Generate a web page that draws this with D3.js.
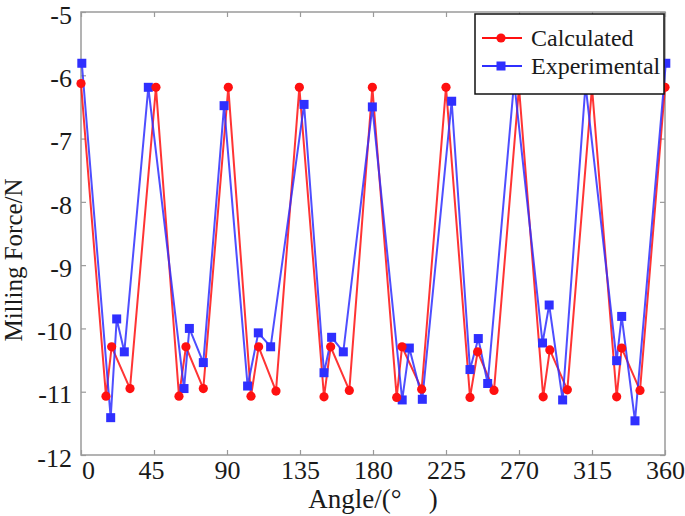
<!DOCTYPE html>
<html><head><meta charset="utf-8">
<script src="https://cdn.jsdelivr.net/npm/d3@7"></script>
<style>body{margin:0;background:#fff}svg{display:block}text{font-family:"Liberation Serif","Times New Roman",serif;fill:#1a1a1a}</style>
</head><body><svg id="c" width="685" height="516"></svg>
<script>
const calcAngles = [0, 15.4, 18.9, 30.2, 46.2, 60.4, 64.7, 75.4, 90.8, 104.8, 109.5, 120.2, 134.6, 149.8, 153.9, 165.4, 179.6, 194.6, 197.9, 210, 225, 239.8, 244.5, 254.6, 270, 284.9, 289, 299.8, 315, 330.2, 333.3, 344.6, 360];
const calcValues = [-6.13, -11.07, -10.29, -10.95, -6.19, -11.07, -10.29, -10.95, -6.19, -11.07, -10.29, -10.99, -6.19, -11.08, -10.29, -10.98, -6.19, -11.09, -10.29, -10.96, -6.19, -11.09, -10.37, -10.98, -6.19, -11.08, -10.34, -10.97, -6.19, -11.08, -10.31, -10.98, -6.19];
const expAngles = [0.5, 18.3, 22, 26.7, 41.5, 63.5, 66.8, 75.4, 88.2, 102.7, 109.3, 116.9, 137.5, 149.8, 154.5, 161.7, 179.6, 198, 202.4, 210.4, 228.5, 239.8, 244.9, 250.7, 267, 284.5, 288.6, 296.9, 311, 330.2, 333.3, 341.5, 360.5];
const expValues = [-5.81, -11.41, -9.85, -10.37, -6.19, -10.95, -10.0, -10.54, -6.48, -10.91, -10.07, -10.29, -6.46, -10.70, -10.14, -10.37, -6.50, -11.13, -10.31, -11.12, -6.41, -10.65, -10.16, -10.87, -6.1, -10.23, -9.63, -11.13, -6.15, -10.51, -9.81, -11.46, -5.81];
const xTicks = [0, 45, 90, 135, 180, 225, 270, 315, 360];
const yTicks = [-5, -6, -7, -8, -9, -10, -11, -12];
const seriesNames = ["Calculated", "Experimental"];

const svg = d3.select("#c");
const L = 81, R = 665, T = 12, B = 455;
const x = d3.scaleLinear().domain([0, 360]).range([L, R]);
const y = d3.scaleLinear().domain([-12, -5]).range([B, T]);
const axisCol = "#9a9a9a";

// frame
svg.append("rect").attr("x", L).attr("y", T).attr("width", R - L).attr("height", B - T)
  .attr("fill", "none").attr("stroke", axisCol).attr("stroke-width", 1.5);

// axes with inward ticks
const gx = svg.append("g").attr("transform", `translate(0,${B})`)
  .call(d3.axisBottom(x).tickValues(xTicks).tickSizeInner(-5).tickSizeOuter(0));
const gxt = svg.append("g").attr("transform", `translate(0,${T})`)
  .call(d3.axisTop(x).tickValues(xTicks).tickSizeInner(-5).tickSizeOuter(0).tickFormat(""));
const gy = svg.append("g").attr("transform", `translate(${L},0)`)
  .call(d3.axisLeft(y).tickValues(yTicks).tickSizeInner(-5).tickSizeOuter(0).tickFormat(d => String(d)));
const gyr = svg.append("g").attr("transform", `translate(${R},0)`)
  .call(d3.axisRight(y).tickValues(yTicks).tickSizeInner(-5).tickSizeOuter(0).tickFormat(""));
[gx, gxt, gy, gyr].forEach(g => {
  g.select(".domain").remove();
  g.selectAll(".tick line").attr("stroke", axisCol).attr("stroke-width", 1.2);
  g.selectAll("text").attr("font-size", 26).attr("font-family", "Liberation Serif").attr("fill", "#1a1a1a");
});
gx.selectAll("text").attr("y", 24).attr("dy", 0).attr("dx", d => d === 0 ? 7 : (d === 45 ? -3 : 0));
gy.selectAll("text").attr("x", -9).attr("dy", "0.43em");

// series
const calc = calcAngles.map((a, i) => [a, calcValues[i]]);
const exp = expAngles.map((a, i) => [a, expValues[i]]);
const line = d3.line().x(d => x(d[0])).y(d => y(d[1]));
const red = "#ff1010", blue = "#2f2fff";
svg.append("path").datum(calc).attr("d", line).attr("fill", "none").attr("stroke", red).attr("stroke-width", 2).attr("stroke-opacity", 0.85);
svg.append("path").datum(exp).attr("d", line).attr("fill", "none").attr("stroke", blue).attr("stroke-width", 2).attr("stroke-opacity", 0.85);
const sq = 9;
svg.append("g").selectAll("rect").data(exp).join("rect")
  .attr("x", d => x(d[0]) - sq / 2).attr("y", d => y(d[1]) - sq / 2).attr("width", sq).attr("height", sq).attr("fill", blue);
svg.append("g").selectAll("circle").data(calc).join("circle")
  .attr("cx", d => x(d[0])).attr("cy", d => y(d[1])).attr("r", 4.6).attr("fill", red);

// legend
const lg = svg.append("g");
lg.append("rect").attr("x", 475).attr("y", 14).attr("width", 189).attr("height", 80)
  .attr("fill", "#fff").attr("stroke", "#111").attr("stroke-width", 1.5);
[[red, 38], [blue, 66]].forEach(([c, yy], i) => {
  lg.append("line").attr("x1", 482).attr("x2", 522).attr("y1", yy).attr("y2", yy).attr("stroke", c).attr("stroke-width", 2);
  if (i === 0) lg.append("circle").attr("cx", 501).attr("cy", yy).attr("r", 4.6).attr("fill", c);
  else lg.append("rect").attr("x", 501 - sq / 2).attr("y", yy - sq / 2).attr("width", sq).attr("height", sq).attr("fill", c);
  lg.append("text").attr("x", 531).attr("y", yy + 8).attr("font-size", 24).text(seriesNames[i]);
});

// axis titles
svg.append("text").attr("x", 373).attr("y", 508).attr("text-anchor", "middle").attr("font-size", 27)
  .style("white-space", "pre").text("Angle/(°　)");
svg.append("text").attr("transform", "translate(22,260) rotate(-90)").attr("text-anchor", "middle").attr("font-size", 25)
  .text("Milling Force/N");
</script></body></html>
